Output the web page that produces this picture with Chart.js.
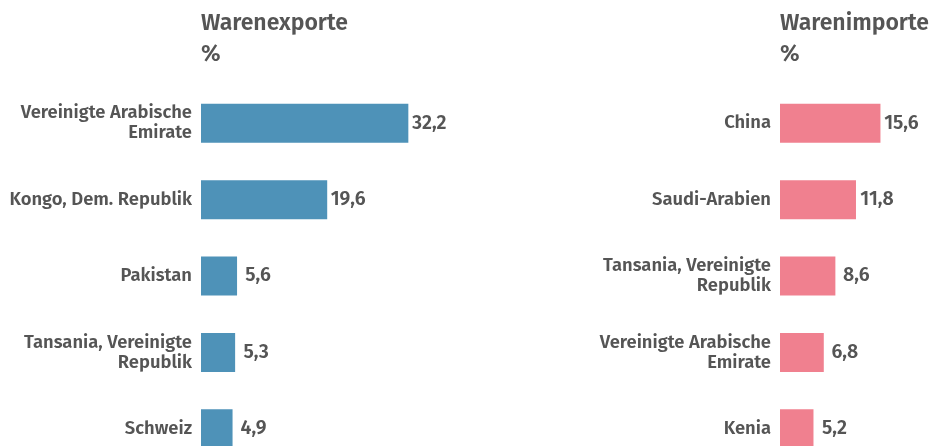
<!DOCTYPE html>
<html>
<head>
<meta charset="utf-8">
<script src="https://cdn.jsdelivr.net/npm/chart.js@4"></script>
<style>
  html, body { margin: 0; padding: 0; background: #fff; overflow: hidden; }
  .wrap { display: flex; align-items: flex-start; width: 931px; }
  canvas { display: block; }
</style>
</head>
<body>
<div class="wrap">
  <canvas id="exportChart" width="465" height="467"></canvas>
  <canvas id="importChart" width="466" height="467"></canvas>
</div>
<script>
const exportLabels = [['Vereinigte Arabische', 'Emirate'], 'Kongo, Dem. Republik', 'Pakistan', ['Tansania, Vereinigte', 'Republik'], 'Schweiz'];
const exportValues = [32.2, 19.6, 5.6, 5.3, 4.9];
const importLabels = ['China', 'Saudi-Arabien', ['Tansania, Vereinigte', 'Republik'], ['Vereinigte Arabische', 'Emirate'], 'Kenia'];
const importValues = [15.6, 11.8, 8.6, 6.8, 5.2];

const FONT = '"Fira Sans", "Open Sans", sans-serif';
const TEXT = '#555555';

// draws the value next to each bar
const valueLabels = {
    id: 'valueLabels',
    afterDatasetsDraw(chart) {
        const ctx = chart.ctx;
        const ds = chart.data.datasets[0];
        ctx.save();
        ctx.font = '600 19.5px ' + FONT;
        ctx.fillStyle = TEXT;
        ctx.textAlign = 'center';
        ctx.textBaseline = 'middle';
        chart.getDatasetMeta(0).data.forEach((bar, i) => {
            ctx.fillText(ds.data[i].toFixed(1).replace('.', ','), bar.x + 21, bar.y);
        });
        ctx.restore();
    }
};

function makeChart(id, title, labels, values, color, axisWidth, xMax) {
    const ctx = document.getElementById(id).getContext('2d');
    return new Chart(ctx, {
        type: 'bar',
        data: {
            labels: labels,
            datasets: [{
                data: values,
                backgroundColor: color,
                borderWidth: 0,
                categoryPercentage: 1,
                barPercentage: 0.51
            }]
        },
        options: {
            indexAxis: 'y',
            responsive: false,
            animation: false,
            layout: { padding: 0 },
            scales: {
                x: { display: false, min: 0, max: xMax },
                y: {
                    grid: { display: false, drawTicks: false },
                    border: { display: false },
                    ticks: {
                        color: TEXT,
                        padding: 9,
                        font: { family: FONT, size: 18.4, weight: 600, lineHeight: 1.09 }
                    },
                    afterFit(scale) {
                        scale.width = axisWidth;
                        // let the bars use the full height
                        scale.paddingTop = 0;
                        scale.paddingBottom = 0;
                    }
                }
            },
            plugins: {
                legend: { display: false },
                tooltip: { enabled: false },
                title: {
                    display: true,
                    text: [title, '%'],
                    align: 'start',
                    fullSize: false,
                    color: TEXT,
                    font: { family: FONT, size: 23, weight: 600, lineHeight: 1.35 },
                    padding: { top: 8.5, bottom: 14.5 }
                }
            }
        },
        plugins: [valueLabels]
    });
}

document.addEventListener('DOMContentLoaded', () => {
    makeChart('exportChart', 'Warenexporte', exportLabels, exportValues, '#4e92b8', 201, 41);
    makeChart('importChart', 'Warenimporte', importLabels, importValues, '#f0808f', 315, 23.45);
});
</script>
</body>
</html>
